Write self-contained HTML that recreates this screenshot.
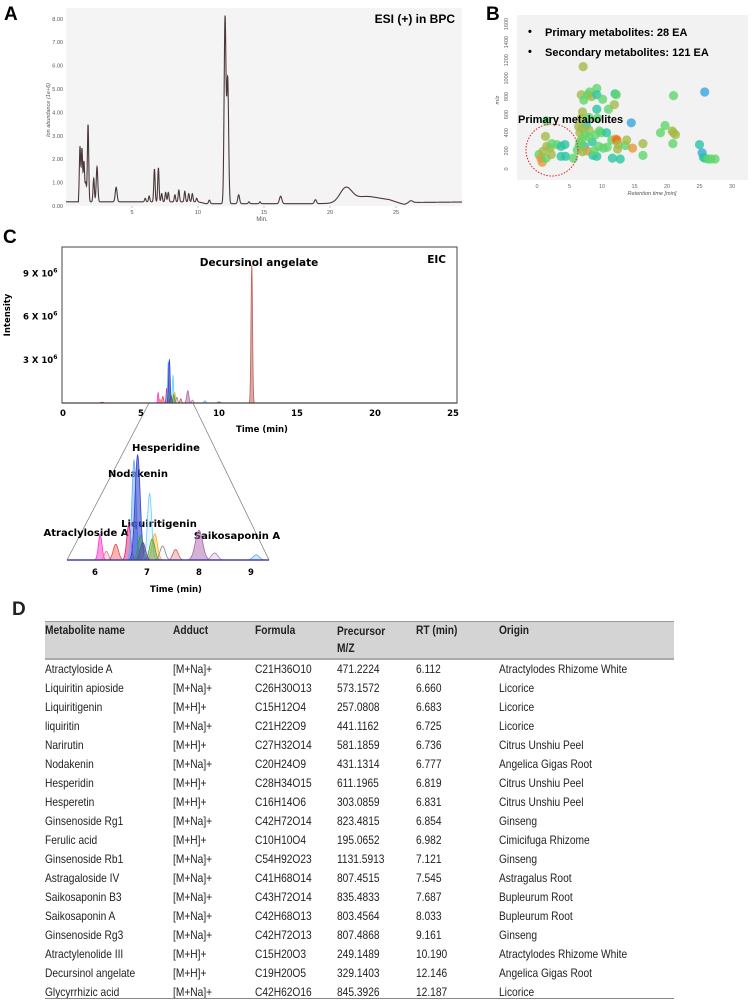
<!DOCTYPE html>
<html><head><meta charset="utf-8">
<style>
body{margin:0;background:#fff;width:755px;height:1004px;position:relative;overflow:hidden;font-family:"Liberation Sans",Arial,sans-serif;}
svg text{font-family:"Liberation Sans",Arial,sans-serif;}
#pc text{font-family:"DejaVu Sans","Liberation Sans",sans-serif;}
.tbl div{position:absolute;font-size:12px;color:#222;white-space:nowrap;line-height:14px;}
.tbl .c{transform:scaleX(0.85);transform-origin:0 0;}
.hd{font-weight:bold;}
</style></head><body>
<svg id="fig" width="755" height="600" style="position:absolute;left:0;top:0">
  <text x="4" y="20" font-size="19" font-weight="bold">A</text>
  <text x="486" y="20" font-size="19" font-weight="bold">B</text>
  <text x="3" y="243" font-size="19" font-weight="bold">C</text>
  <g id="pa">
    <rect x="66" y="8" width="396" height="198" fill="#f4f4f4"/>
    <text x="455" y="23" font-size="12" font-weight="bold" text-anchor="end">ESI (+) in BPC</text>
    <text transform="translate(50,110) rotate(-90)" font-size="5.5" font-style="italic" fill="#555" text-anchor="middle">Ion abundance (1e+6)</text>
    <text x="262" y="221" font-size="6" fill="#555" text-anchor="middle">Min.</text>
  </g>
  <g id="pb">
    <rect x="517" y="15" width="231" height="165" fill="#f2f2f2"/>
    <text x="528" y="35" font-size="11" font-weight="bold">•</text>
    <text x="545" y="36" font-size="11" font-weight="bold">Primary metabolites: 28 EA</text>
    <text x="528" y="55" font-size="11" font-weight="bold">•</text>
    <text x="545" y="56" font-size="11" font-weight="bold">Secondary metabolites: 121 EA</text>
    <text transform="translate(499,100) rotate(-90)" font-size="5.5" font-style="italic" fill="#555" text-anchor="middle">m/z</text>
    <text x="652" y="195" font-size="5.5" font-style="italic" fill="#555" text-anchor="middle">Retention time [min]</text>
  </g>
  <g id="pc">
    <rect x="62" y="247" width="395" height="156" fill="#fff" stroke="#444" stroke-width="1"/>
    <text x="259" y="266" font-size="10.5" font-weight="bold" text-anchor="middle">Decursinol angelate</text>
    <text x="446" y="263" font-size="10.5" font-weight="bold" text-anchor="end">EIC</text>
    <text transform="translate(10,315) rotate(-90)" font-size="8.5" font-weight="bold" text-anchor="middle">Intensity</text>
    <text x="262" y="432" font-size="8.5" font-weight="bold" text-anchor="middle">Time (min)</text>
    <line x1="149" y1="403" x2="67" y2="560" stroke="#777" stroke-width="0.7"/>
    <line x1="193" y1="403" x2="269" y2="560" stroke="#777" stroke-width="0.7"/>
    <text x="176" y="592" font-size="8.5" font-weight="bold" text-anchor="middle">Time (min)</text>
    <text x="166" y="451" font-size="10" font-weight="bold" text-anchor="middle">Hesperidine</text>
    <text x="138" y="477" font-size="10" font-weight="bold" text-anchor="middle">Nodakenin</text>
    <text x="159" y="527" font-size="10" font-weight="bold" text-anchor="middle">Liquiritigenin</text>
    <text x="86" y="536" font-size="10" font-weight="bold" text-anchor="middle">Atraclyloside A</text>
    <text x="237" y="539" font-size="10" font-weight="bold" text-anchor="middle">Saikosaponin A</text>
  </g>
</svg>
<div class="tbl">
  <div style="left:12px;top:600px;font-size:19px;line-height:20px;font-weight:bold">D</div>
  <div style="left:45px;top:621px;width:629px;height:36px;background:#d4d4d4;border-top:1px solid #999;border-bottom:2px solid #aaa;"></div>
  <div class="hd c" style="left:45px;top:623px">Metabolite name</div>
  <div class="hd c" style="left:173px;top:623px">Adduct</div>
  <div class="hd c" style="left:255px;top:623px">Formula</div>
  <div class="hd c" style="left:337px;top:623px;line-height:17px">Precursor<br>M/Z</div>
  <div class="hd c" style="left:416px;top:623px">RT (min)</div>
  <div class="hd c" style="left:499px;top:623px">Origin</div>
  <div id="rows"></div>
  <div style="left:45px;top:998px;width:629px;height:0;border-top:1px solid #888"></div>
</div>
<script>
const NS="http://www.w3.org/2000/svg";
function mk(tag,attrs,parent){const e=document.createElementNS(NS,tag);for(const k in attrs)e.setAttribute(k,attrs[k]);parent.appendChild(e);return e;}
// ---------- Panel A data ----------
const bpcRT=[1.06,1.21,1.36,1.5,1.67,2.1,2.35,3.8,6.0,6.3,6.7,7.0,7.25,7.55,7.75,8.25,8.55,9.0,9.3,9.57,9.9,10.86,12.05,12.25,13.08,13.86,14.7,16.26,18.9,21.2,22.5,23.8,26.1];
const bpcH=[2.35,2.25,1.7,0.8,3.3,1.0,1.5,0.62,0.15,0.25,1.4,1.45,0.35,0.4,0.4,0.3,0.5,0.45,0.35,0.35,0.15,0.15,7.95,5.3,0.38,0.08,0.08,0.32,0.17,0.62,0.2,0.12,0.08];
const bpcW=[0.05,0.05,0.05,0.05,0.05,0.05,0.06,0.07,0.05,0.05,0.05,0.05,0.05,0.05,0.05,0.05,0.05,0.05,0.05,0.05,0.05,0.06,0.07,0.07,0.07,0.05,0.05,0.09,0.08,0.45,0.8,1.0,0.14];
const baseT=[0,10,10.6,19,24.5,25.6,26.2,30];
const baseV=[0.18,0.18,0.1,0.1,0.17,0.05,0.15,0.17];
const bpcYTicks=[0,1,2,3,4,5,6,7,8];
const bpcXTicks=[5,10,15,20,25];
const ax=t=>66+t*13.2, ay=v=>206-v*23.4;
const pa=document.getElementById('pa');
function baseAt(t){for(let i=0;i<baseT.length-1;i++){if(t<=baseT[i+1]){const f=(t-baseT[i])/(baseT[i+1]-baseT[i]);return baseV[i]+f*(baseV[i+1]-baseV[i]);}}return baseV[baseV.length-1];}
let pts=[];
for(let t=0;t<=30.001;t+=0.01){let v=baseAt(t);for(let i=0;i<bpcRT.length;i++){v+=bpcH[i]*Math.exp(-Math.pow(t-bpcRT[i],2)/(2*bpcW[i]*bpcW[i]));}
 if(t<0.95)v=baseAt(t);pts.push(ax(t).toFixed(2)+','+ay(v).toFixed(2));}
const bl=mk('polyline',{points:pts.join(' '),fill:'none',stroke:'#4a3838','stroke-width':1.1},pa);


bpcYTicks.forEach(v=>{const tx=mk('text',{x:63,y:ay(v)+2,'font-size':5.5,fill:'#555','text-anchor':'end'},pa);tx.textContent=v.toFixed(2);
 
 });
bpcXTicks.forEach(v=>{const tx=mk('text',{x:ax(v),y:214,'font-size':5.5,fill:'#555','text-anchor':'middle'},pa);tx.textContent=v;
 
 
 const tk=mk('line',{x1:ax(v),x2:ax(v),y1:206,y2:208,stroke:'#888','stroke-width':0.5},pa);
 
 });
// ---------- Panel B data ----------
const scRT=[0.3,0.6,0.8,1.4,0.9,1.5,2,1.3,2.2,3.1,3.7,4.3,3.7,4.4,5.6,2.3,1.5,6.4,6.8,7.1,7.2,7.0,6.8,6.6,6.9,7.3,6.5,6.2,7.8,8.1,8.4,8.0,7.6,8.0,8.5,8.0,7.7,9.2,9.2,9.2,9.3,9.6,9.0,10.1,9.5,10.2,9.9,10.7,11.0,11.5,11.9,12.0,12.2,12.1,12.3,12.5,12.4,11.6,12.8,13.6,13.8,14.5,14.7,16.3,16.3,19.0,19.7,20.8,21.0,21.3,21.0,20.9,25.0,25.4,25.6,25.8,26.3,26.8,27.4,25.8,9.2,8.6,10.8,6.6,7.0,8.8,7.4,6.9];
const scMZ=[160,120,75,120,195,250,230,360,160,270,250,270,140,140,120,280,530,470,820,1130,760,630,560,400,330,250,260,210,820,850,800,570,480,430,300,350,200,890,820,660,560,420,380,770,250,230,400,400,660,320,710,830,820,330,320,270,220,120,110,260,320,510,230,280,150,400,480,420,400,380,810,280,270,180,130,120,110,110,110,850,140,150,240,300,190,200,380,450];
const scCls=['g','o','o','g','l','l','l','l','l','g','t','t','t','t','g','g','g','l','l','l','g','l','l','l','l','t','g','g','g','g','l','g','t','l','t','g','o','g','t','t','g','g','g','g','g','g','g','t','g','g','l','t','g','o','r','l','l','t','t','g','l','b','o','l','g','g','g','l','l','l','g','g','t','b','t','t','g','g','g','b','t','t','g','g','l','g','g','l'];
const scColor={g:'#5fd66c',t:'#2cc4a2',b:'#3aa5dc',o:'#e49838',l:'#a4ba48',r:'#f26a10'};
const scYTicks=[0,200,400,600,800,1000,1200,1400,1600];
const scXTicks=[0,5,10,15,20,25,30];
const bx=t=>537+t*6.5, by=v=>169-v*0.0906;
const pb=document.getElementById('pb');
scYTicks.forEach(v=>{const tx=mk('text',{transform:`translate(508,${by(v)}) rotate(-90)`,'font-size':5.5,fill:'#666','text-anchor':'middle'},pb);tx.textContent=v;
 
 });
scXTicks.forEach(v=>{const tx=mk('text',{x:bx(v),y:188,'font-size':5.5,fill:'#666','text-anchor':'middle'},pb);tx.textContent=v;
 
 });
for(let i=0;i<scRT.length;i++){const c=mk('circle',{cx:bx(scRT[i]),cy:by(scMZ[i]),r:4.6,fill:scColor[scCls[i]],'fill-opacity':0.8},pb);
 
 }
const circ=mk('circle',{cx:552,cy:150,r:26,fill:'none',stroke:'#e02020','stroke-width':1,'stroke-dasharray':'1.5 1.5'},pb);


const pl=mk('text',{x:518,y:123,'font-size':11,'font-weight':'bold'},pb);pl.textContent='Primary metabolites';


// ---------- Panel C data ----------
const eicRT=[6.1,6.22,6.4,6.65,6.75,6.82,6.88,7.05,7.15,7.1,7.3,7.55,8.0,8.3,9.1,12.1,2.5,10.0,6.92];
const eicH=[0.72,0.25,0.45,1.0,2.85,3.0,0.7,1.9,0.75,0.6,0.4,0.3,0.85,0.2,0.15,9.6,0.05,0.08,0.5];
const eicW=[0.035,0.04,0.05,0.04,0.04,0.05,0.05,0.04,0.05,0.05,0.05,0.05,0.07,0.06,0.06,0.05,0.1,0.08,0.05];
const eicColor=['#ff33cc','#e08080','#ee4444','#e0207a','#66aaff','#3344cc','#2a9a4a','#66ccff','#ffaa22','#44aa44','#888888','#dd5555','#aa66aa','#bb77bb','#66aaff','#c0605a','#cc4444','#aa66aa','#6644aa'];
const eicFillOp=[0.5,0.3,0.4,0.5,0.5,0.6,0.4,0.15,0.4,0.4,0.05,0.3,0.5,0.2,0.3,0.55,0.3,0.3,0.5];
const eicYTicks=[3,6,9];
const eicXTicks=[0,5,10,15,20,25];
const insetXTicks=[6,7,8,9];
const cx=t=>63+t*15.6, cy=v=>403-v*14.4;
const ix=t=>95+(t-6)*52, iy=v=>560-v*35;
const pc=document.getElementById('pc');
function peakPath(i,X,Y,t0,t1){const w=eicW[i];let a=Math.max(t0,eicRT[i]-5*w),b=Math.min(t1,eicRT[i]+5*w);if(b<=a)return null;
 let d=`M${X(a).toFixed(2)},${Y(0).toFixed(2)}`;for(let t=a;t<=b+1e-9;t+=w/8){d+=` L${X(t).toFixed(2)},${Y(eicH[i]*Math.exp(-Math.pow(t-eicRT[i],2)/(2*w*w))).toFixed(2)}`;}
 d+=` L${X(b).toFixed(2)},${Y(0).toFixed(2)} Z`;return d;}
for(let i=0;i<eicRT.length;i++){const d=peakPath(i,cx,cy,0,25);if(d){const p=mk('path',{d:d,fill:eicColor[i],'fill-opacity':eicFillOp[i],stroke:eicColor[i],'stroke-width':0.8},pc);
 
 }}
const cb=mk('line',{x1:62,x2:457,y1:403,y2:403,stroke:'#444','stroke-width':1.2},pc);


eicYTicks.forEach(v=>{const tx=mk('text',{x:23,y:cy(v)+3,'font-size':8.5,'font-weight':'bold'},pc);tx.textContent=v+' X 10';
 const sp=mk('tspan',{dy:-4,'font-size':6},tx);sp.textContent='6';
 
 });
eicXTicks.forEach(v=>{const tx=mk('text',{x:cx(v),y:416,'font-size':8.5,'font-weight':'bold','text-anchor':'middle'},pc);tx.textContent=v;
 
 });
for(let i=0;i<eicRT.length;i++){const d=peakPath(i,ix,iy,5.45,9.35);if(d){const p=mk('path',{d:d,fill:eicColor[i],'fill-opacity':eicFillOp[i],stroke:eicColor[i],'stroke-width':0.8},pc);
 
 }}
const ib=mk('line',{x1:67,x2:269,y1:560,y2:560,stroke:'#4444aa','stroke-width':1.5},pc);


insetXTicks.forEach(v=>{const tx=mk('text',{x:ix(v),y:575,'font-size':8.5,'font-weight':'bold','text-anchor':'middle'},pc);tx.textContent=v;
 
 });
// ---------- Table ----------
const rows=[
["Atractyloside A","[M+Na]+","C21H36O10","471.2224","6.112","Atractylodes Rhizome White"],
["Liquiritin apioside","[M+Na]+","C26H30O13","573.1572","6.660","Licorice"],
["Liquiritigenin","[M+H]+","C15H12O4","257.0808","6.683","Licorice"],
["liquiritin","[M+Na]+","C21H22O9","441.1162","6.725","Licorice"],
["Narirutin","[M+H]+","C27H32O14","581.1859","6.736","Citrus Unshiu Peel"],
["Nodakenin","[M+Na]+","C20H24O9","431.1314","6.777","Angelica Gigas Root"],
["Hesperidin","[M+H]+","C28H34O15","611.1965","6.819","Citrus Unshiu Peel"],
["Hesperetin","[M+H]+","C16H14O6","303.0859","6.831","Citrus Unshiu Peel"],
["Ginsenoside Rg1","[M+Na]+","C42H72O14","823.4815","6.854","Ginseng"],
["Ferulic acid","[M+H]+","C10H10O4","195.0652","6.982","Cimicifuga Rhizome"],
["Ginsenoside Rb1","[M+Na]+","C54H92O23","1131.5913","7.121","Ginseng"],
["Astragaloside IV","[M+Na]+","C41H68O14","807.4515","7.545","Astragalus Root"],
["Saikosaponin B3","[M+Na]+","C43H72O14","835.4833","7.687","Bupleurum Root"],
["Saikosaponin A","[M+Na]+","C42H68O13","803.4564","8.033","Bupleurum Root"],
["Ginsenoside Rg3","[M+Na]+","C42H72O13","807.4868","9.161","Ginseng"],
["Atractylenolide III","[M+H]+","C15H20O3","249.1489","10.190","Atractylodes Rhizome White"],
["Decursinol angelate","[M+H]+","C19H20O5","329.1403","12.146","Angelica Gigas Root"],
["Glycyrrhizic acid","[M+Na]+","C42H62O16","845.3926","12.187","Licorice"]];
const colX=[45,173,255,337,416,499];
const rc=document.getElementById('rows');
rows.forEach((r,i)=>{r.forEach((c,j)=>{const d=document.createElement('div');d.className='c';d.style.left=colX[j]+'px';d.style.top=(662+i*19)+'px';d.textContent=c;
 
 
 rc.appendChild(d);});});
</script>
</body></html>
